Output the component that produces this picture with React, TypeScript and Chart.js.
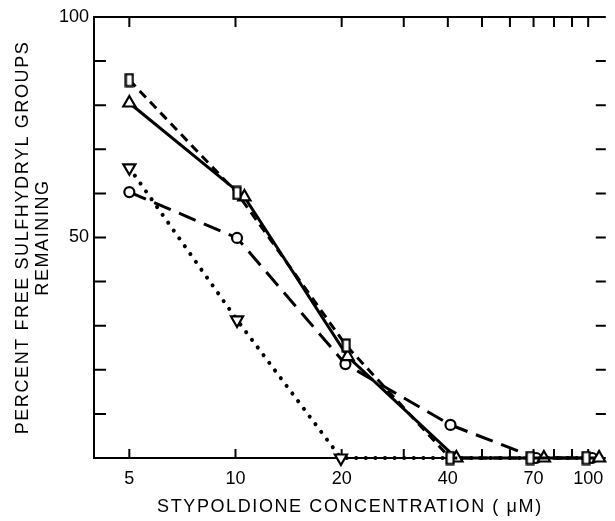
import { useEffect, useRef } from 'react';
import { Chart, registerables } from 'chart.js';

Chart.register(...registerables);

// Tick values / labels
const xLabelTicks = [5, 10, 20, 40, 70, 100];
const xMinorTicks = [5, 10, 20, 30, 40, 50, 60, 70, 80, 90, 100];
const yTickValues = [10, 20, 30, 40, 50, 60, 70, 80, 90];
const yLabelValues = [50, 100];

// Series (x = concentration µM as plotted, y = percent)
const squareX = [5, 10.1, 20.6, 40.6, 68.5, 98.7];
const squareY = [85.7, 60.1, 25.5, 0, 0, 0];
const triUpX = [5, 10.6, 20.8, 42.3, 74.9, 107.4];
const triUpY = [80.5, 59.2, 23, 0, 0, 0];
const circleX = [5, 10.1, 20.5, 40.7, 71.2, 102.6];
const circleY = [60.3, 49.9, 21.3, 7.5, 0, 0];
const triDownX = [5, 10.1, 19.9, 40, 70, 100];
const triDownY = [65.8, 31.3, 0, 0, 0, 0];
const triDownMarker = [1, 1, 1, 0, 0, 0];

const FONT = "'Liberation Sans', Arial, Helvetica, sans-serif";

function zip(xs: number[], ys: number[]) {
  return xs.map((x, i) => ({ x, y: ys[i] }));
}

function makeRect(): HTMLCanvasElement {
  const c = document.createElement('canvas');
  c.width = 10;
  c.height = 15;
  const g = c.getContext('2d')!;
  g.fillStyle = '#fff';
  g.strokeStyle = '#000';
  g.lineWidth = 2.2;
  g.fillRect(1.5, 1.5, 7, 12);
  g.strokeRect(1.5, 1.5, 7, 12);
  return c;
}

const frameTicks = {
  id: 'frameTicks',
  beforeDraw(chart: any) {
    chart.ctx.letterSpacing = '1.6px';
  },
  beforeDatasetsDraw(chart: any) {
    const { ctx, chartArea, scales } = chart;
    const { left, right, top, bottom } = chartArea;
    ctx.letterSpacing = '0px';
    ctx.save();
    ctx.strokeStyle = '#000';
    ctx.lineWidth = 2;
    ctx.setLineDash([]);
    ctx.beginPath();
    ctx.moveTo(left, bottom);
    ctx.lineTo(left, top);
    ctx.lineTo(right, top);
    ctx.moveTo(left - 1, bottom);
    ctx.lineTo(right, bottom);
    for (const v of yTickValues) {
      const py = scales.y.getPixelForValue(v);
      ctx.moveTo(left, py);
      ctx.lineTo(left + 12, py);
      ctx.moveTo(right, py);
      ctx.lineTo(right - 10, py);
    }
    for (const v of xMinorTicks) {
      const px = scales.x.getPixelForValue(v);
      ctx.moveTo(px, bottom);
      ctx.lineTo(px, bottom - 9);
      ctx.moveTo(px, top);
      ctx.lineTo(px, top + 10);
    }
    ctx.stroke();
    ctx.restore();
  },
};

export default function App() {
  const ref = useRef<HTMLCanvasElement | null>(null);

  useEffect(() => {
    if (!ref.current) return;
    const rect = makeRect();
    const common = {
      borderColor: '#000',
      pointBorderColor: '#000',
      pointBackgroundColor: '#fff',
      pointBorderWidth: 2.2,
      fill: false,
      tension: 0,
      clip: false as any,
    };
    const chart = new Chart(ref.current, {
      type: 'line',
      data: {
        datasets: [
          {
            ...common,
            label: 'square',
            data: zip(squareX, squareY),
            borderWidth: 3,
            borderDash: [9, 6],
            pointStyle: rect as any,
            pointRadius: 5,
          },
          {
            ...common,
            label: 'triangle',
            data: zip(triUpX, triUpY),
            borderWidth: 3,
            pointStyle: 'triangle',
            pointRadius: 7,
          },
          {
            ...common,
            label: 'circle',
            data: zip(circleX, circleY),
            borderWidth: 3,
            borderDash: [18, 9],
            pointStyle: 'circle',
            pointRadius: 5,
          },
          {
            ...common,
            label: 'inverted triangle',
            data: zip(triDownX, triDownY),
            borderWidth: 4,
            borderDash: [0.1, 9.5],
            borderCapStyle: 'round',
            pointStyle: 'triangle',
            pointRotation: 180,
            pointRadius: triDownMarker.map((m) => (m ? 7 : 0)),
          },
        ] as any,
      },
      options: {
        animation: false,
        responsive: false,
        devicePixelRatio: 1,
        events: [],
        layout: { padding: { top: 17, right: 0, bottom: 0, left: 0 } },
        plugins: {
          legend: { display: false },
          tooltip: { enabled: false },
        },
        scales: {
          x: {
            type: 'logarithmic',
            min: 3.97,
            max: 112.2,
            afterBuildTicks: (s: any) => {
              s.ticks = xLabelTicks.map((v) => ({ value: v }));
            },
            afterFit: (s: any) => {
              s.height = 63;
            },
            grid: { display: false, drawTicks: false },
            border: { display: false },
            ticks: {
              z: 1,
              autoSkip: false,
              maxRotation: 0,
              padding: 10,
              color: '#000',
              font: { family: FONT, size: 18 },
              callback: (v: any) => String(v),
            },
            title: {
              display: true,
              text: 'STYPOLDIONE CONCENTRATION ( μM)',
              color: '#000',
              font: { family: FONT, size: 18, lineHeight: 1.1 },
              padding: { top: 0, bottom: 4 },
            },
          },
          y: {
            type: 'linear',
            min: 0,
            max: 100,
            afterBuildTicks: (s: any) => {
              s.ticks = yLabelValues.map((v) => ({ value: v }));
            },
            afterFit: (s: any) => {
              s.width = 94;
            },
            grid: { display: false, drawTicks: false },
            border: { display: false },
            ticks: {
              z: 1,
              padding: 5,
              color: '#000',
              font: { family: FONT, size: 18 },
              callback: (v: any) => String(v),
            },
            title: {
              display: true,
              text: ['PERCENT FREE SULFHYDRYL GROUPS', 'REMAINING'],
              color: '#000',
              font: { family: FONT, size: 18, lineHeight: 1.1 },
              padding: { top: 13, bottom: 0 },
            },
          },
        },
      } as any,
      plugins: [frameTicks as any],
    });
    return () => chart.destroy();
  }, []);

  return (
    <div style={{ position: 'fixed', left: 0, top: 0, width: 615, height: 521, background: '#fff' }}>
      <canvas ref={ref} width={615} height={521} style={{ display: 'block' }} />
    </div>
  );
}
